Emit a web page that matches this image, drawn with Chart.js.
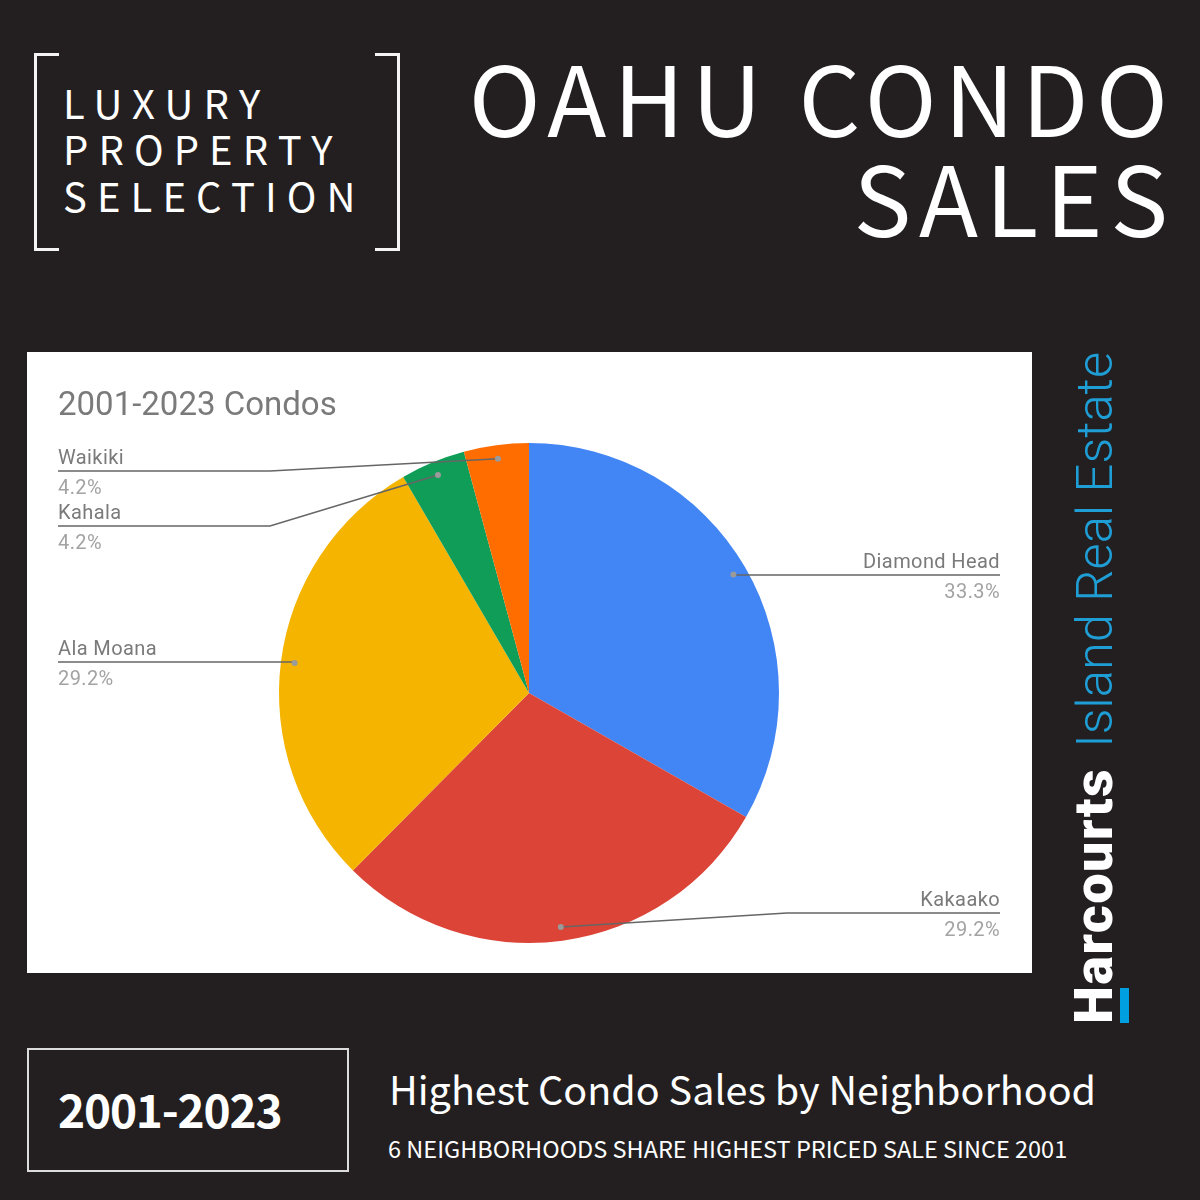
<!DOCTYPE html>
<html>
<head>
<meta charset="utf-8">
<script src="https://cdn.jsdelivr.net/npm/chart.js@4/dist/chart.umd.min.js"></script>
<style>
html, body { margin: 0; padding: 0; }
body { width: 1200px; height: 1200px; background: #231f20; position: relative; overflow: hidden; font-family: "Noto Sans CJK SC", "Noto Sans", sans-serif; color: #fff; }
.txt { position: absolute; white-space: nowrap; line-height: 1; }
.brk { position: absolute; top: 53px; width: 22px; height: 192px; border: 3px solid #f4f4f4; }
.lux { left: 63px; font-size: 40px; letter-spacing: 10.1px; font-weight: 400; }
.big { right: 24.5px; font-size: 97px; letter-spacing: 7.5px; font-weight: 400; }
#box { position: absolute; left: 27px; top: 352px; width: 1005px; height: 621px; background: #fff; }
#box canvas { position: absolute; left: 0; top: 0; }
#dateBox { position: absolute; left: 27px; top: 1048px; width: 318px; height: 120px; border: 2px solid #dcdcdc; }
#brand { position: absolute; left: 1070px; top: 1024px; transform-origin: 0 0; transform: rotate(-90deg); white-space: nowrap; line-height: 48px; }
</style>
</head>
<body>
<div class="brk" style="left:34px;border-right:none"></div>
<div class="brk" style="left:375px;border-left:none"></div>
<div class="txt lux" style="top:82px">LUXURY</div>
<div class="txt lux" style="top:128px">PROPERTY</div>
<div class="txt lux" style="top:175px">SELECTION</div>
<div class="txt big" style="top:46px">OAHU CONDO</div>
<div class="txt big" style="top:146px">SALES</div>

<div id="box"><canvas id="pie" width="1005" height="621"></canvas></div>

<div id="brand"><span style="font-family:Roboto;font-weight:900;font-size:54px;letter-spacing:1.4px;color:#fff">Harcourts</span><span style="font-family:Roboto;font-weight:300;font-size:50.7px;color:#1f9ed6;margin-left:20px">Island Real Estate</span></div>
<div style="position:absolute;left:1120px;top:988px;width:9px;height:35px;background:#00a0e0"></div>

<div id="dateBox"></div>
<div class="txt" style="left:58px;top:1085px;font-size:46px;font-weight:700;letter-spacing:-1.2px">2001-2023</div>
<div class="txt" style="left:389px;top:1068px;font-size:39.5px;font-weight:400">Highest Condo Sales by Neighborhood</div>
<div class="txt" style="left:388px;top:1137px;font-size:23.5px;font-weight:400">6 NEIGHBORHOODS SHARE HIGHEST PRICED SALE SINCE 2001</div>

<script>
const neighborhoods = ["Diamond Head", "Kakaako", "Ala Moana", "Kahala", "Waikiki"];
const shares = [33.3, 29.2, 29.2, 4.2, 4.2];
const sliceColors = ["#4285f4", "#db4437", "#f4b400", "#0f9d58", "#ff6d00"];
const shareLabels = ["33.3%", "29.2%", "29.2%", "4.2%", "4.2%"];

// where each label sits, y is the leader line inside the white box
const labelSpots = [
    { side: "right", y: 223 },
    { side: "right", y: 561 },
    { side: "left", y: 310 },
    { side: "left", y: 174 },
    { side: "left", y: 119 },
];

const leaderLabels = {
    id: "leaderLabels",
    afterDraw(chart) {
        const ctx = chart.ctx;
        const arcs = chart.getDatasetMeta(0).data;
        ctx.save();
        ctx.font = "20px Roboto";
        ctx.letterSpacing = "0.4px";
        arcs.forEach(function (arc, i) {
            const mid = (arc.startAngle + arc.endAngle) / 2;
            const px = arc.x + Math.cos(mid) * arc.outerRadius * 0.945;
            const py = arc.y + Math.sin(mid) * arc.outerRadius * 0.945;
            const spot = labelSpots[i];
            const right = spot.side === "right";
            const endX = right ? 973 : 31;
            const elbowX = right
                ? (i === 1 ? 760 : px)
                : (i === 2 ? px : 243);

            ctx.strokeStyle = "#666666";
            ctx.lineWidth = 1.5;
            ctx.beginPath();
            ctx.moveTo(px, py);
            ctx.lineTo(elbowX, spot.y);
            ctx.lineTo(endX, spot.y);
            ctx.stroke();

            ctx.fillStyle = "#9a9a9a";
            ctx.beginPath();
            ctx.arc(px, py, 3, 0, Math.PI * 2);
            ctx.fill();

            ctx.textBaseline = "alphabetic";
            ctx.textAlign = right ? "right" : "left";
            ctx.fillStyle = "#7a7a7a";
            ctx.fillText(neighborhoods[i], endX, spot.y - 7);
            ctx.fillStyle = "#a3a3a3";
            ctx.fillText(shareLabels[i], endX, spot.y + 23);
        });
        ctx.restore();
    },
};

Chart.defaults.animation = false;

new Chart(document.getElementById("pie"), {
    type: "pie",
    data: {
        labels: neighborhoods,
        datasets: [
            {
                data: shares,
                backgroundColor: sliceColors,
                borderWidth: 0,
            },
        ],
    },
    options: {
        responsive: false,
        layout: { padding: { left: 252, right: 253, top: 91, bottom: 30 } },
        plugins: {
            legend: { display: false },
            tooltip: { enabled: false },
            title: {
                display: false,
            },
        },
    },
    plugins: [
        leaderLabels,
        {
            id: "boxTitle",
            afterDraw(chart) {
                const ctx = chart.ctx;
                ctx.save();
                ctx.font = "33px Roboto";
                ctx.fillStyle = "#7a7a7a";
                ctx.textAlign = "left";
                ctx.textBaseline = "alphabetic";
                ctx.fillText("2001-2023 Condos", 31, 63);
                ctx.restore();
            },
        },
    ],
});
</script>
</body>
</html>
